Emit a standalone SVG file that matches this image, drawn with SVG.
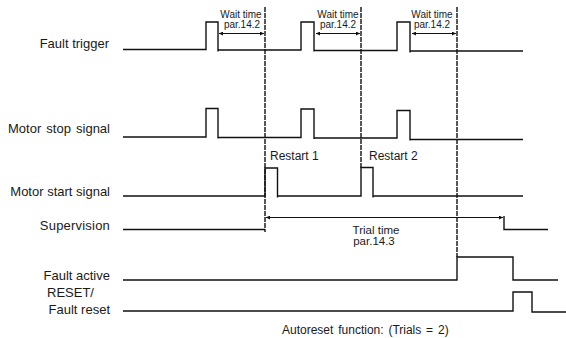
<svg xmlns="http://www.w3.org/2000/svg" width="566" height="338" viewBox="0 0 566 338">
<style>
.sig{fill:none;stroke:#111;stroke-width:1.4;stroke-linejoin:miter}
.dash{fill:none;stroke:#111;stroke-width:1.4;stroke-dasharray:5 1}
.arr{fill:none;stroke:#111;stroke-width:1;marker-start:url(#ah);marker-end:url(#ah)}
.lbl{font-family:"Liberation Sans",Arial,sans-serif;font-size:13px;fill:#1a1a1a;text-anchor:end}
.sm{font-family:"Liberation Sans",Arial,sans-serif;font-size:10px;fill:#1a1a1a;text-anchor:middle}
.md{font-family:"Liberation Sans",Arial,sans-serif;font-size:12px;fill:#1a1a1a}
</style>
<defs>
<marker id="ah" viewBox="0 0 10 10" refX="10" refY="5" markerWidth="5" markerHeight="4" markerUnits="userSpaceOnUse" orient="auto-start-reverse">
<path d="M0,0 L10,5 L0,10 z" fill="#111"/>
</marker>
</defs>
<rect width="566" height="338" fill="#fff"/>
<g id="labels">
<text class="lbl" x="109" y="48">Fault trigger</text>
<text class="lbl" x="110" y="133" word-spacing="1.5">Motor stop signal</text>
<text class="lbl" x="110" y="196">Motor start signal</text>
<text class="lbl" x="110" y="230" letter-spacing="0.2">Supervision</text>
<text class="lbl" x="110" y="280">Fault active</text>
<text class="lbl" x="47" y="297" style="text-anchor:start">RESET/</text>
<text class="lbl" x="110" y="314">Fault reset</text>
</g>
<g id="connectors">
<line class="dash" x1="265" y1="7" x2="265" y2="232"/>
<line class="dash" x1="361" y1="7" x2="361" y2="168"/>
<line class="dash" x1="457" y1="7" x2="457" y2="257"/>
<line class="arr" x1="219" y1="33.5" x2="264" y2="33.5"/>
<line class="arr" x1="316" y1="33.5" x2="360" y2="33.5"/>
<line class="arr" x1="412" y1="33.5" x2="456" y2="33.5"/>
<line class="arr" x1="266" y1="217.5" x2="503" y2="217.5"/>
</g>
<g id="fault-trigger">
<path class="sig" d="M123,49.5 H206 V22 H218 V51.5 M218,50 H301 V22 H314 V51.5 M314,50.5 H397 V22 H410 V52.5 M410,51 H523"/>
<text class="sm" x="241" y="18">Wait time</text>
<text class="sm" x="242" y="28">par.14.2</text>
<text class="sm" x="338" y="18">Wait time</text>
<text class="sm" x="338" y="28">par.14.2</text>
<text class="sm" x="432" y="18">Wait time</text>
<text class="sm" x="432" y="28">par.14.2</text>
</g>
<g id="motor-stop">
<path class="sig" d="M123,137 H206 V108.5 H218 V138.5 M218,137.5 H301 V109 H314 V139 M314,138 H397 V110.5 H410 V140.5 M410,139.5 H523"/>
</g>
<g id="motor-start">
<path class="sig" d="M123,196 H265 V168 H277.5 V197.5 M277.5,196 H361 V167.5 H373 V197.5 M373,196 H523"/>
<text class="md" x="270" y="160">Restart 1</text>
<text class="md" x="369" y="160">Restart 2</text>
</g>
<g id="supervision">
<path class="sig" d="M123,229.5 H265 M504,216 V229.5 H548"/>
<text class="md" x="376" y="234" style="text-anchor:middle;font-size:11.5px">Trial time</text>
<text class="md" x="374" y="245" style="text-anchor:middle;font-size:11.5px">par.14.3</text>
</g>
<g id="fault-active">
<path class="sig" d="M123,280 H457 V257 H513 V280 H558"/>
</g>
<g id="fault-reset">
<path class="sig" d="M123,311 H513 V292 H532 V312 H566"/>
</g>
<g id="caption">
<text class="md" x="282" y="334" word-spacing="1.5">Autoreset function: (Trials = 2)</text>
</g>
</svg>
